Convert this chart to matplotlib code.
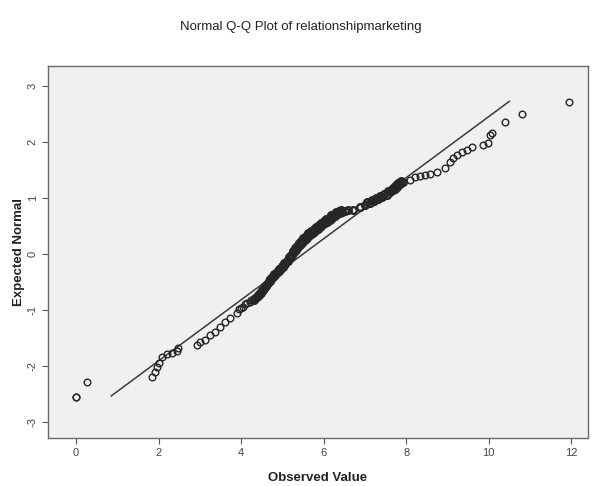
import matplotlib
matplotlib.use("Agg")
import matplotlib.pyplot as plt

plt.rcParams['font.family'] = ['Liberation Sans', 'DejaVu Sans']

obs_low = [0.0, 0.0, 0.27, 1.84, 1.91, 1.96, 2.01, 2.08, 2.20, 2.32, 2.45, 2.47,
           2.93, 3.00, 3.12, 3.24, 3.37, 3.49, 3.61, 3.73, 3.90, 3.95, 4.00, 4.04,
           4.10, 4.15, 4.21, 4.25]
exp_low = [-2.55, -2.55, -2.29, -2.20, -2.11, -2.02, -1.95, -1.84, -1.79, -1.77, -1.73, -1.68,
           -1.63, -1.57, -1.54, -1.45, -1.39, -1.30, -1.21, -1.14, -1.05, -0.98, -0.97, -0.95,
           -0.90, -0.88, -0.86, -0.83]

obs_mid = [4.30, 4.38, 4.44, 4.49, 4.53, 4.58, 4.61, 4.65, 4.69, 4.73, 4.77, 4.83,
           4.89, 4.95, 5.01, 5.07, 5.13, 5.18, 5.23, 5.28, 5.33, 5.37, 5.42, 5.48,
           5.54, 5.60, 5.67, 5.73, 5.79, 5.85, 5.91, 5.97, 6.03, 6.09, 6.15, 6.21,
           6.27, 6.33, 6.39, 6.45, 6.51, 6.60, 6.71, 6.88, 7.00, 7.12, 7.22, 7.31,
           7.42, 7.53, 7.61, 7.68, 7.73, 7.77, 7.85, 7.92]
exp_mid = [-0.82, -0.77, -0.73, -0.69, -0.64, -0.60, -0.56, -0.52, -0.48, -0.44, -0.41, -0.37,
           -0.32, -0.28, -0.23, -0.18, -0.13, -0.08, -0.02, 0.03, 0.07, 0.12, 0.16, 0.20,
           0.25, 0.29, 0.34, 0.38, 0.41, 0.45, 0.48, 0.52, 0.55, 0.58, 0.61, 0.65,
           0.68, 0.71, 0.73, 0.75, 0.77, 0.78, 0.79, 0.84, 0.87, 0.91, 0.94, 0.98,
           1.01, 1.05, 1.10, 1.14, 1.17, 1.20, 1.25, 1.29]

# tied cases stacked in the dense middle band
obs_tie = [4.34, 4.41, 4.46, 4.50, 4.55, 4.59, 4.63, 4.67, 4.71, 4.75, 4.80, 4.86,
           4.92, 4.98, 5.04, 5.10, 5.15, 5.20, 5.25, 5.30, 5.35, 5.40, 5.45, 5.51,
           5.57, 5.63, 5.70, 5.76, 5.82, 5.88, 5.94, 6.00, 6.06, 6.12, 6.18, 6.24,
           6.30, 6.36, 6.42, 7.06, 7.17, 7.26, 7.37, 7.47, 7.57, 7.65, 7.70, 7.75,
           7.81, 7.88]
exp_tie = [-0.78, -0.74, -0.70, -0.65, -0.61, -0.57, -0.53, -0.49, -0.45, -0.41, -0.36, -0.32,
           -0.27, -0.22, -0.17, -0.12, -0.06, -0.01, 0.05, 0.10, 0.14, 0.19, 0.23, 0.28,
           0.32, 0.37, 0.41, 0.45, 0.48, 0.52, 0.55, 0.59, 0.62, 0.65, 0.69, 0.72,
           0.75, 0.77, 0.79, 0.93, 0.97, 1.00, 1.04, 1.08, 1.13, 1.17, 1.20, 1.24,
           1.27, 1.31]

obs_high = [8.09, 8.21, 8.33, 8.45, 8.57, 8.74, 8.93, 9.06, 9.13, 9.23, 9.35, 9.47,
            9.59, 9.85, 9.98, 10.02, 10.07, 10.39, 10.80, 11.94]
exp_high = [1.32, 1.38, 1.39, 1.41, 1.43, 1.46, 1.54, 1.64, 1.71, 1.77, 1.82, 1.86,
            1.91, 1.95, 1.98, 2.12, 2.16, 2.36, 2.50, 2.71]

# reference line ends
line_x = [0.85, 10.5]
line_y = [-2.54, 2.73]

x_ticks = [0, 2, 4, 6, 8, 10, 12]
y_ticks = [-3, -2, -1, 0, 1, 2, 3]

fig = plt.figure(figsize=(6.01, 4.86), dpi=100)
ax = fig.add_axes([0.080, 0.099, 0.898, 0.765])
ax.set_facecolor("#f0f0f0")

ax.plot(line_x, line_y, color="#3a3a3a", lw=1.1, zorder=2)
circle = dict(linestyle="none", marker="o", markersize=4.8, markerfacecolor="none",
              markeredgecolor="#262626", zorder=3)
ax.plot(obs_low + obs_high, exp_low + exp_high, markeredgewidth=1.0, **circle)
# the dense band prints nearly solid
ax.plot(obs_mid + obs_tie, exp_mid + exp_tie, markeredgewidth=1.7, **circle)

ax.set_xlim(-0.68, 12.4)
ax.set_ylim(-3.29, 3.36)
ax.set_xticks(x_ticks)
ax.set_yticks(y_ticks)
ax.set_yticklabels([str(t) for t in y_ticks], rotation=90, va="center")
ax.tick_params(direction="out", length=4, width=0.8, colors="#555555",
               labelsize=8, labelcolor="#444444")

for s in ax.spines.values():
    s.set_color("#6a6a6a")
    s.set_linewidth(1.0)

ax.set_xlabel("Observed Value", fontsize=9.5, fontweight="bold", color="#222222", labelpad=10)
ax.set_ylabel("Expected Normal", fontsize=9.5, fontweight="bold", color="#222222", labelpad=2)
fig.text(0.5, 0.945, "Normal Q-Q Plot of relationshipmarketing", ha="center",
         va="center", fontsize=9.5, color="#222222")

fig.savefig("out.png", dpi=100)
